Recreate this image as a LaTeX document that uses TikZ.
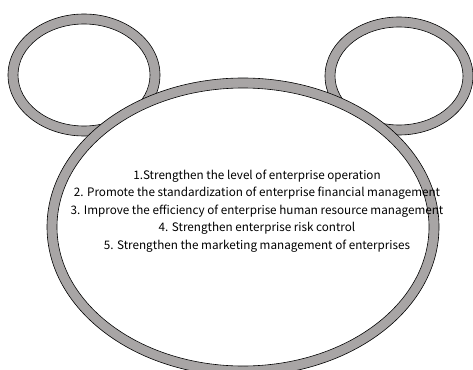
\documentclass[tikz,border=0pt]{standalone}
\usepackage{fontspec}
\setmainfont{Noto Sans CJK SC}
\usetikzlibrary{positioning}
\definecolor{ringgray}{RGB}{168,165,165}
\tikzset{%
	ringband/.style={draw=black, line width=0.6pt, fill=ringgray},
	ringhole/.style={draw=black, line width=0.6pt, fill=white},
	listtext/.style={align=center, font=\fontsize{11.7}{17.5}\selectfont, inner sep=0pt}
}
\begin{document}
\begin{tikzpicture}[x=1pt, y=-1pt]
	\useasboundingbox (0,0) rectangle (473,369);
	% ears
	\draw[ringband] (84,75) ellipse [x radius=76, y radius=61];
	\draw[ringhole] (84,75) ellipse [x radius=66, y radius=51];
	\draw[ringband] (399,76) ellipse [x radius=74, y radius=59];
	\draw[ringhole] (399,76) ellipse [x radius=64, y radius=49];
	% face
	\draw[ringband] (243,227) ellipse [x radius=196, y radius=149];
	\draw[ringhole] (243,227) ellipse [x radius=186, y radius=139];
	
	\node[listtext] (list) at (257,211) {1.Strengthen the level of enterprise operation\\
		2. Promote the standardization of enterprise financial management\\
		3. Improve the efficiency of enterprise human resource management\\
		4. Strengthen enterprise risk control\\
		5. Strengthen the marketing management of enterprises};
\end{tikzpicture}
\end{document}
